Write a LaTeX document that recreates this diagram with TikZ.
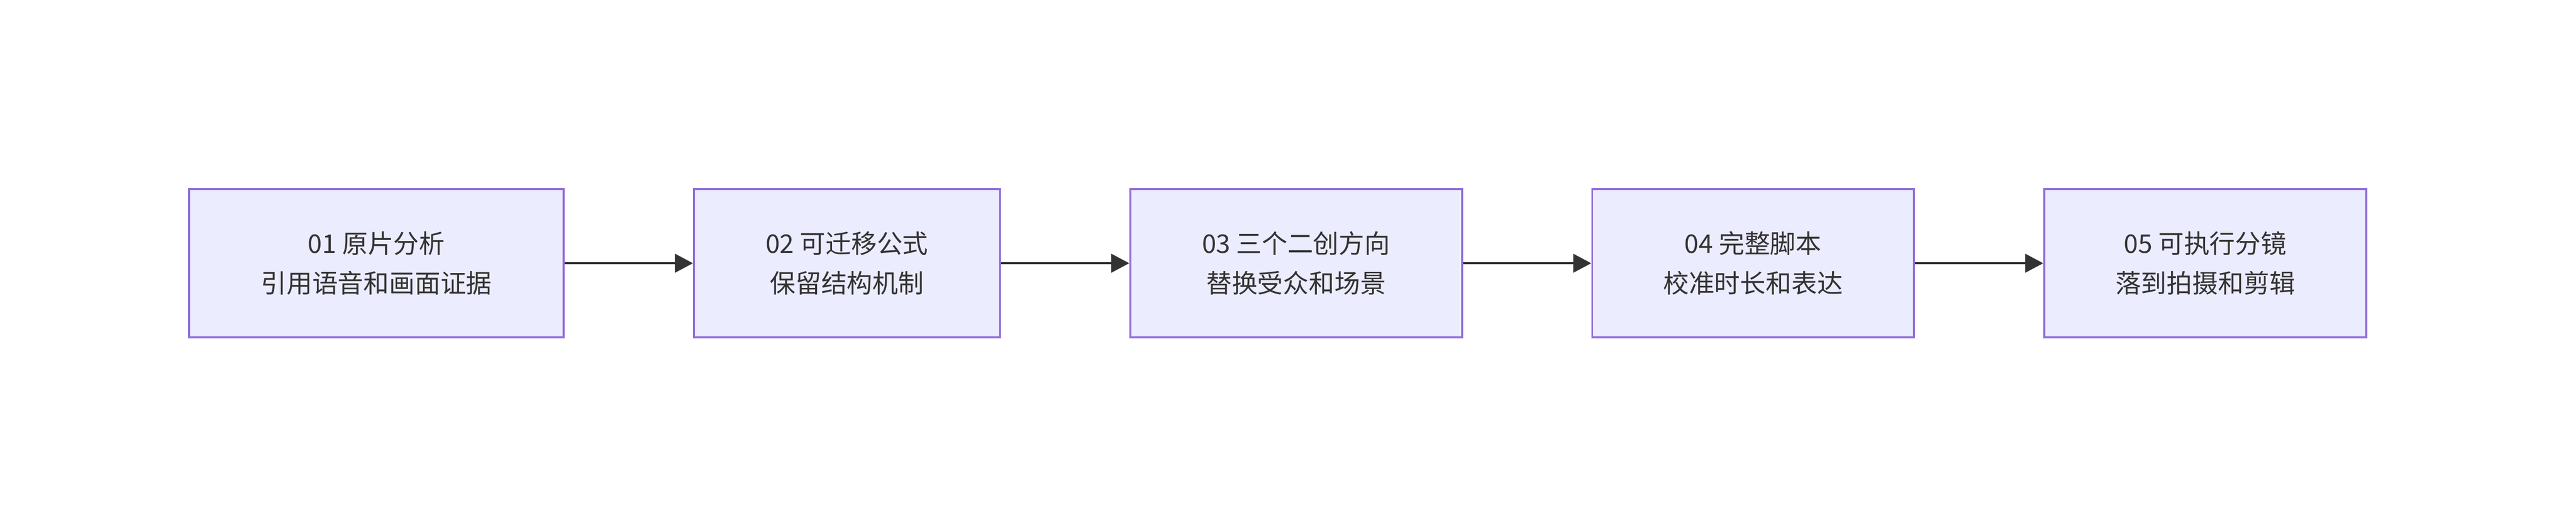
\documentclass[tikz,border=0pt]{standalone}
\usepackage{fontspec}
\setmainfont{Noto Sans CJK SC}
\usetikzlibrary{positioning,arrows.meta}
\definecolor{boxfill}{HTML}{ECECFF}
\definecolor{boxline}{HTML}{9370DB}
\definecolor{ink}{HTML}{333333}
\tikzset{
    stage/.style={draw=boxline, fill=boxfill, line width=0.8pt, minimum height=62.4pt,
        inner sep=0pt, align=center, text=ink, font=\fontsize{10.8pt}{16.8pt}\selectfont},
    flow/.style={draw=ink, line width=1pt, -{Triangle[length=7.6pt,width=7.8pt]}}
}
\begin{document}
\begin{tikzpicture}
    \useasboundingbox (0,0) rectangle (1084pt,223pt);
    \node[stage, minimum width=157.6pt, anchor=west] (s1) at (79.2pt,112.2pt) {01 原片分析\\引用语音和画面证据};
    \node[stage, minimum width=128.8pt, right=54pt of s1] (s2) {02 可迁移公式\\保留结构机制};
    \node[stage, minimum width=139.6pt, right=54pt of s2] (s3) {03 三个二创方向\\替换受众和场景};
    \node[stage, minimum width=135.4pt, right=54pt of s3] (s4) {04 完整脚本\\校准时长和表达};
    \node[stage, minimum width=135.6pt, right=54pt of s4] (s5) {05 可执行分镜\\落到拍摄和剪辑};
    \draw[flow] (s1) -- (s2);
    \draw[flow] (s2) -- (s3);
    \draw[flow] (s3) -- (s4);
    \draw[flow] (s4) -- (s5);
\end{tikzpicture}
\end{document}
